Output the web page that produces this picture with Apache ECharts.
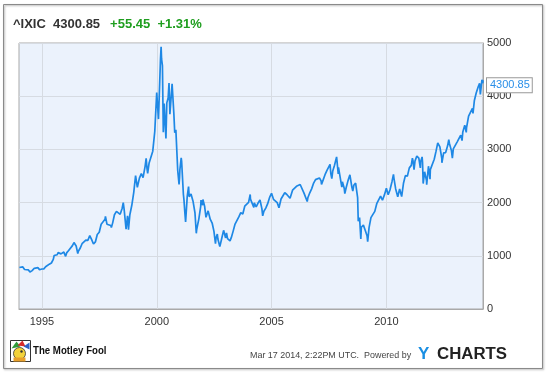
<!DOCTYPE html>
<html><head><meta charset="utf-8">
<script src="https://cdn.jsdelivr.net/npm/echarts@6/dist/echarts.min.js"></script>
<style>html,body{margin:0;padding:0;background:#fff}#c{width:550px;height:372px}</style>
</head><body><div id="c"></div>
<script>
// ^IXIC closes
const dates = [
'1994-01-07','1994-01-31','1994-02-28','1994-03-15','1994-03-31','1994-04-15','1994-04-29','1994-05-31','1994-06-15','1994-06-24','1994-07-15','1994-07-29','1994-08-31','1994-09-15','1994-09-30','1994-10-31','1994-11-23','1994-11-30','1994-12-15','1994-12-30',
'1995-01-13','1995-01-31','1995-02-28','1995-03-31','1995-04-28','1995-05-31','1995-06-30','1995-07-14','1995-07-31','1995-08-31','1995-09-15','1995-09-29','1995-10-31','1995-11-30','1995-12-15','1995-12-29',
'1996-01-12','1996-01-31','1996-02-29','1996-03-29','1996-04-30','1996-05-24','1996-05-31','1996-06-28','1996-07-24','1996-07-31','1996-08-30','1996-09-30','1996-10-31','1996-11-29','1996-12-13','1996-12-31',
'1997-01-31','1997-02-28','1997-03-31','1997-04-14','1997-04-30','1997-05-30','1997-06-30','1997-07-31','1997-08-29','1997-09-30','1997-10-07','1997-10-31','1997-11-28','1997-12-31',
'1998-01-09','1998-01-30','1998-02-27','1998-03-31','1998-04-30','1998-05-29','1998-06-30','1998-07-17','1998-07-31','1998-08-31','1998-09-23','1998-09-30','1998-10-08','1998-10-30','1998-11-30','1998-12-31',
'1999-01-29','1999-02-26','1999-03-31','1999-04-30','1999-05-28','1999-06-30','1999-07-16','1999-07-30','1999-08-09','1999-08-31','1999-09-30','1999-10-29','1999-11-30','1999-12-31',
'2000-01-14','2000-01-28','2000-02-29','2000-03-10','2000-03-17','2000-03-31','2000-04-14','2000-04-28','2000-05-12','2000-05-26','2000-06-09','2000-06-30','2000-07-14','2000-07-28','2000-08-18','2000-09-01','2000-09-29','2000-10-13','2000-10-31','2000-11-30','2000-12-21','2000-12-29',
'2001-01-03','2001-01-24','2001-01-31','2001-02-28','2001-03-09','2001-03-22','2001-03-30','2001-04-04','2001-04-30','2001-05-21','2001-05-31','2001-06-29','2001-07-31','2001-08-31','2001-09-21','2001-09-28','2001-10-31','2001-11-30','2001-12-05','2001-12-31',
'2002-01-04','2002-01-31','2002-02-22','2002-02-28','2002-03-28','2002-04-30','2002-05-31','2002-06-28','2002-07-23','2002-07-31','2002-08-21','2002-08-30','2002-09-30','2002-10-09','2002-10-31','2002-11-29','2002-12-31',
'2003-01-14','2003-01-31','2003-02-28','2003-03-11','2003-03-31','2003-04-30','2003-05-30','2003-06-30','2003-07-31','2003-08-29','2003-09-30','2003-10-31','2003-11-28','2003-12-31',
'2004-01-26','2004-01-30','2004-02-27','2004-03-24','2004-03-31','2004-04-30','2004-05-28','2004-06-30','2004-07-30','2004-08-12','2004-08-31','2004-09-30','2004-10-29','2004-11-30','2004-12-31',
'2005-01-31','2005-02-28','2005-03-31','2005-04-28','2005-05-31','2005-06-30','2005-07-29','2005-08-31','2005-09-30','2005-10-21','2005-10-31','2005-11-30','2005-12-30',
'2006-01-31','2006-02-28','2006-03-31','2006-04-19','2006-04-28','2006-05-31','2006-06-30','2006-07-21','2006-07-31','2006-08-31','2006-09-29','2006-10-31','2006-11-30','2006-12-29',
'2007-01-31','2007-02-27','2007-03-05','2007-03-30','2007-04-30','2007-05-31','2007-06-29','2007-07-19','2007-07-31','2007-08-16','2007-08-31','2007-09-28','2007-10-31','2007-11-26','2007-11-30','2007-12-31',
'2008-01-22','2008-01-31','2008-02-29','2008-03-10','2008-03-31','2008-04-30','2008-05-30','2008-06-30','2008-07-15','2008-07-31','2008-08-29','2008-09-30','2008-10-10','2008-10-31','2008-11-20','2008-11-28','2008-12-31',
'2009-01-30','2009-02-27','2009-03-09','2009-03-31','2009-04-30','2009-05-29','2009-06-30','2009-07-31','2009-08-31','2009-09-30','2009-10-30','2009-11-30','2009-12-31',
'2010-01-29','2010-02-05','2010-02-26','2010-03-31','2010-04-23','2010-04-30','2010-05-28','2010-06-30','2010-07-30','2010-08-31','2010-09-30','2010-10-29','2010-11-30','2010-12-31',
'2011-01-31','2011-02-18','2011-02-28','2011-03-16','2011-03-31','2011-04-29','2011-05-31','2011-06-24','2011-06-30','2011-07-22','2011-07-29','2011-08-08','2011-08-31','2011-09-30','2011-10-03','2011-10-31','2011-11-25','2011-11-30','2011-12-30',
'2012-01-31','2012-02-29','2012-03-27','2012-03-30','2012-04-30','2012-05-31','2012-06-01','2012-06-29','2012-07-31','2012-08-31','2012-09-19','2012-09-28','2012-10-31','2012-11-15','2012-11-30','2012-12-31',
'2013-01-31','2013-02-28','2013-03-28','2013-04-18','2013-04-30','2013-05-31','2013-06-24','2013-06-28','2013-07-31','2013-08-30','2013-09-30','2013-10-09','2013-10-31','2013-11-29','2013-12-31',
'2014-01-22','2014-02-03','2014-02-28','2014-03-07','2014-03-14','2014-03-17'
];
const closes = [
780,800,793,800,743,725,733,735,720,695,710,722,765,775,764,777,738,750,740,752,
765,755,793,817,843,865,933,1005,1001,1020,1060,1044,1036,1059,1070,1052,
990,1060,1100,1101,1191,1250,1243,1185,1040,1081,1141,1227,1222,1293,1270,1291,
1380,1309,1222,1200,1261,1400,1442,1594,1587,1686,1740,1594,1601,1570,
1530,1619,1771,1835,1868,1779,1895,2000,1872,1499,1750,1694,1490,1771,1950,2193,
2506,2288,2461,2543,2471,2686,2830,2638,2550,2739,2746,2966,3336,4069,
4060,3570,4697,4930,4700,4573,3321,3861,3530,3205,3875,3966,4246,3663,4000,4234,3673,3316,3370,2598,2340,2471,
2616,2840,2773,2152,2052,1830,1840,1638,2116,2300,2110,2161,2027,1805,1423,1499,1690,1931,2046,1950,
2059,1934,1724,1731,1845,1688,1616,1463,1229,1328,1409,1315,1172,1150,1330,1479,1336,
1430,1321,1337,1280,1341,1464,1596,1623,1735,1810,1787,1932,1960,2003,
2153,2066,2030,1910,1994,1920,1987,2048,1887,1752,1838,1897,1975,2097,2175,
2062,2052,1999,1904,2068,2057,2185,2152,2152,2083,2120,2233,2205,
2306,2281,2340,2370,2323,2179,2172,2020,2091,2184,2258,2367,2432,2415,
2464,2407,2340,2422,2525,2605,2603,2720,2546,2452,2596,2702,2859,2540,2661,2652,
2292,2390,2271,2170,2279,2413,2523,2293,2215,2326,2368,2092,1650,1721,1316,1536,1577,
1476,1378,1268,1529,1717,1774,1835,1979,2009,2122,2045,2145,2269,
2147,2126,2238,2398,2530,2461,2257,2109,2255,2114,2369,2507,2498,2653,
2700,2834,2782,2617,2781,2874,2835,2652,2774,2859,2756,2358,2579,2415,2335,2684,2441,2620,2605,
2814,2967,3122,3092,3046,2827,2747,2935,2940,3067,3182,3116,2977,2836,3010,3020,
3142,3160,3268,3166,3329,3456,3320,3403,3626,3590,3771,3678,3920,4060,4177,
4243,4032,4308,4336,4245,4300.85
];
const yearTicks = [1995, 2000, 2005, 2010];
const xStart = '1994-01-01', xEnd = '2014-03-17';

function decYear(s) {
  const p = s.split('-').map(Number);
  const t = Date.UTC(p[0], p[1] - 1, p[2]);
  const t0 = Date.UTC(p[0], 0, 1), t1 = Date.UTC(p[0] + 1, 0, 1);
  return p[0] + (t - t0) / (t1 - t0);
}
const seriesData = dates.map((d, i) => [decYear(d), closes[i]]);

const chart = echarts.init(document.getElementById('c'), null, {renderer: 'canvas'});
const F = 'Liberation Sans, Arial, sans-serif';
chart.setOption({
  animation: false,
  backgroundColor: '#fff',
  title: {
    left: 8, top: 10,
    text: '{a|^IXIC  4300.85}  {g|+55.45  +1.31%}',
    textStyle: {
      fontFamily: F,
      rich: {
        a: {fontFamily: F, fontSize: 13, fontWeight: 'bold', color: '#333'},
        g: {fontFamily: F, fontSize: 13, fontWeight: 'bold', color: '#1f9e1f'}
      }
    }
  },
  grid: {left: 19, right: 67, top: 43, bottom: 63, show: true,
    backgroundColor: '#ebf2fc', borderColor: '#a9a9a9', borderWidth: 1},
  xAxis: {
    type: 'value', min: decYear(xStart), max: decYear(xEnd),
    axisLine: {show: true, lineStyle: {color: '#a9a9a9'}},
    axisTick: {show: false, customValues: yearTicks},
    axisLabel: {customValues: yearTicks, color: '#333', fontFamily: F, fontSize: 11, margin: 7,
      formatter: v => String(Math.round(v))},
    splitLine: {show: true, lineStyle: {color: '#d6dbe2', width: 1}}
  },
  yAxis: {
    type: 'value', position: 'right', min: 0, max: 5000, interval: 1000,
    axisLine: {show: true, lineStyle: {color: '#a9a9a9'}},
    axisTick: {show: false},
    axisLabel: {color: '#333', fontFamily: F, fontSize: 11, margin: 4, formatter: v => String(v)},
    splitLine: {show: true, lineStyle: {color: '#d6dbe2', width: 1}}
  },
  series: [{
    type: 'line', data: seriesData, showSymbol: false, symbol: 'none',
    lineStyle: {color: '#1e88e5', width: 1.7}, clip: false,
    endLabel: {show: true, formatter: p => p.value[1].toFixed(2),
      color: '#2a8fe8', fontFamily: F, fontSize: 11, backgroundColor: '#fff',
      borderColor: '#999', borderWidth: 1, padding: [2, 2, 1, 3], distance: 4, offset: [0, 5]}
  }],
  graphic: [
    {type: 'rect', shape: {x: 3.5, y: 4.5, width: 539, height: 364},
      style: {fill: null, stroke: '#8a8a8a', lineWidth: 1, shadowColor: 'rgba(0,0,0,0.35)', shadowBlur: 2, shadowOffsetX: 1, shadowOffsetY: 1}, silent: true, z: -1},
    // Motley Fool logo
    {type: 'group', left: 10, top: 340, children: [
      {type: 'rect', shape: {x: 0, y: 0, width: 20, height: 21}, style: {fill: '#fff', stroke: '#333', lineWidth: 1}},
      {type: 'polygon', shape: {points: [[1,8],[6,1],[10,6]]}, style: {fill: '#2e9b3a'}},
      {type: 'polygon', shape: {points: [[7,5],[12,0],[15,6]]}, style: {fill: '#d62b2b'}},
      {type: 'polygon', shape: {points: [[13,6],[19,2],[19,9]]}, style: {fill: '#2b5fc4'}},
      {type: 'circle', shape: {cx: 9, cy: 13, r: 6}, style: {fill: '#f3d23a', stroke: '#333', lineWidth: 0.8}},
      {type: 'circle', shape: {cx: 11, cy: 11, r: 1.2}, style: {fill: '#333'}},
      {type: 'rect', shape: {x: 3, y: 17, width: 12, height: 4}, style: {fill: '#e8a02a'}}
    ]},
    {type: 'text', x: 33, y: 346, scaleX: 0.92, style: {text: 'The Motley Fool', fill: '#111', font: 'bold 10.5px ' + F}},
    {type: 'text', x: 250, y: 350, scaleX: 0.93, style: {text: 'Mar 17 2014, 2:22PM UTC.  Powered by', fill: '#444', font: '9.6px ' + F}},
    {type: 'text', x: 418, y: 346, style: {text: 'Y', fill: '#1a8fe3', font: 'bold 17px ' + F}},
    {type: 'text', x: 437, y: 347, scaleX: 1.05, style: {text: 'CHARTS', fill: '#222', font: 'bold 16px ' + F}}
  ]
});
</script></body></html>
